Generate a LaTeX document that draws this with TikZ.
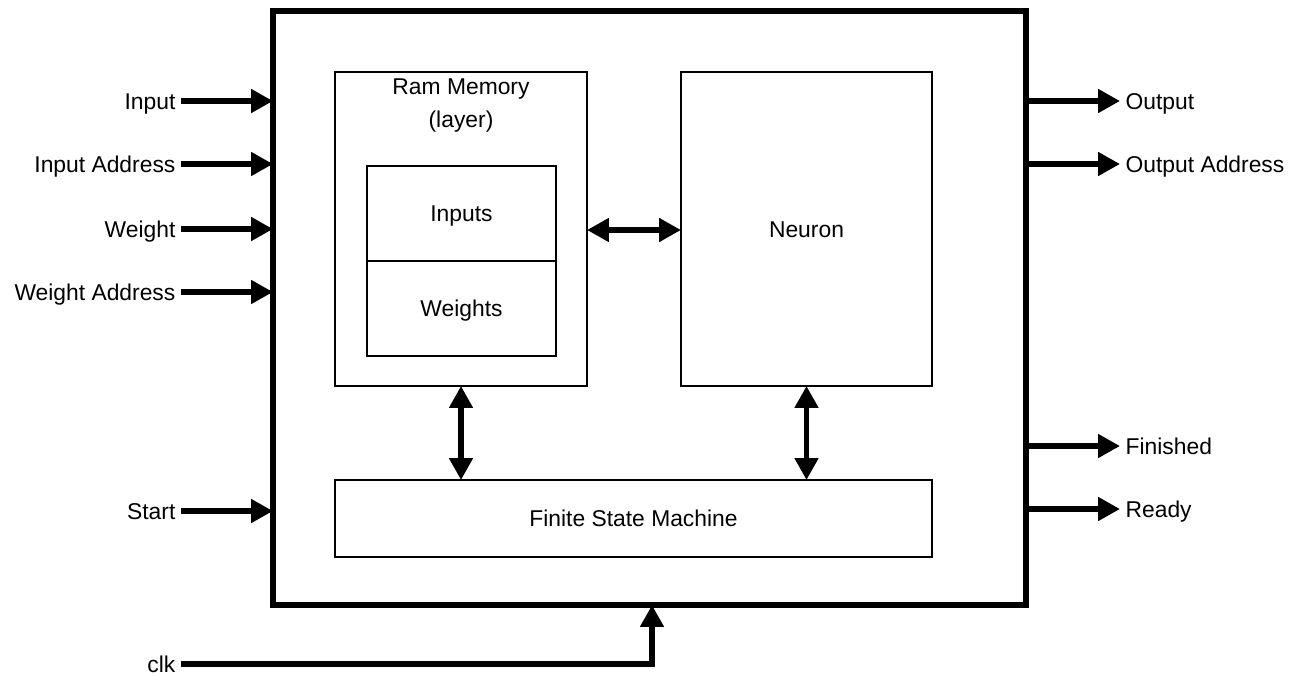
\documentclass[tikz,border=0pt]{standalone}
\usepackage{fontspec}
\setmainfont{Liberation Sans}
\usetikzlibrary{arrows.meta,positioning}

\begin{document}
\begin{tikzpicture}[every node/.style={font=\fontsize{13}{19}\selectfont},
  blk/.style={draw, line width=1.3pt, inner sep=0pt, outer sep=0pt},
  pin/.style={inner sep=3pt, text height=9.4pt, text depth=0pt},
  sig/.style={line width=3pt, -{Triangle[length=12.5pt,width=13pt]}},
  bus/.style={line width=3pt, {Triangle[length=12.5pt,width=13pt]}-{Triangle[length=12.5pt,width=13pt]}}]

\useasboundingbox (0,0) rectangle (26.04,-13.5);

% ---- top level block ----
\node[draw, line width=3pt, outer sep=0pt, minimum width=15.06cm, minimum height=11.88cm] (top) at (12.99,-6.16) {};

% ---- ram memory ----
\node[blk, minimum width=5.04cm, minimum height=6.28cm] (ram) at (9.22,-4.58) {};
\node[anchor=north, align=center, inner sep=0pt] (ramlbl) at ([yshift=-0.12cm]ram.north) {Ram Memory\\(layer)};

\node[blk, pin, minimum width=3.78cm, minimum height=1.9cm] (inp) at (9.23,-4.27) {Inputs};
\node[blk, pin, minimum width=3.78cm, minimum height=1.9cm, below=0pt of inp] (wgt) {Weights};

% ---- neuron ----
\node[blk, pin, minimum width=5.02cm, minimum height=6.28cm] (neu) at (16.13,-4.58) {Neuron};

% ---- fsm ----
\node[blk, pin, minimum width=11.94cm, minimum height=1.54cm] (fsm) at (12.67,-10.37) {Finite State Machine};

% internal buses
\draw[bus] (ram.east |- 0,-4.6) -- (neu.west |- 0,-4.6);
\draw[bus] (ram.south) -- (ram.south |- fsm.north);
\draw[bus] (neu.south) -- (neu.south |- fsm.north);

% ---- inputs ----
\node[pin, anchor=east] (in)   at (3.62,-2.02)  {Input};
\node[pin, anchor=east] (inad) at (3.62,-3.28)  {Input Address};
\node[pin, anchor=east] (w)    at (3.62,-4.58)  {Weight};
\node[pin, anchor=east] (wad)  at (3.62,-5.84)  {Weight Address};
\node[pin, anchor=east] (st)   at (3.62,-10.22) {Start};
\node[pin, anchor=east] (clk)  at (3.62,-13.28) {clk};

\foreach \s in {in,inad,w,wad,st}
  \draw[sig] (\s.east) -- (\s.east -| top.west);

\coordinate (clkin) at (13.04,-12.1);
\draw[sig] (clk.east) -| (clkin);

% ---- outputs ----
\node[pin, anchor=west] (out)   at (22.4,-2.02)  {Output};
\node[pin, anchor=west] (outad) at (22.4,-3.28)  {Output Address};
\node[pin, anchor=west] (fin)   at (22.4,-8.92)  {Finished};
\node[pin, anchor=west] (rdy)   at (22.4,-10.18) {Ready};

\foreach \s in {out,outad,fin,rdy}
  \draw[sig] (\s.west -| top.east) -- (\s.west);

\end{tikzpicture}
\end{document}
